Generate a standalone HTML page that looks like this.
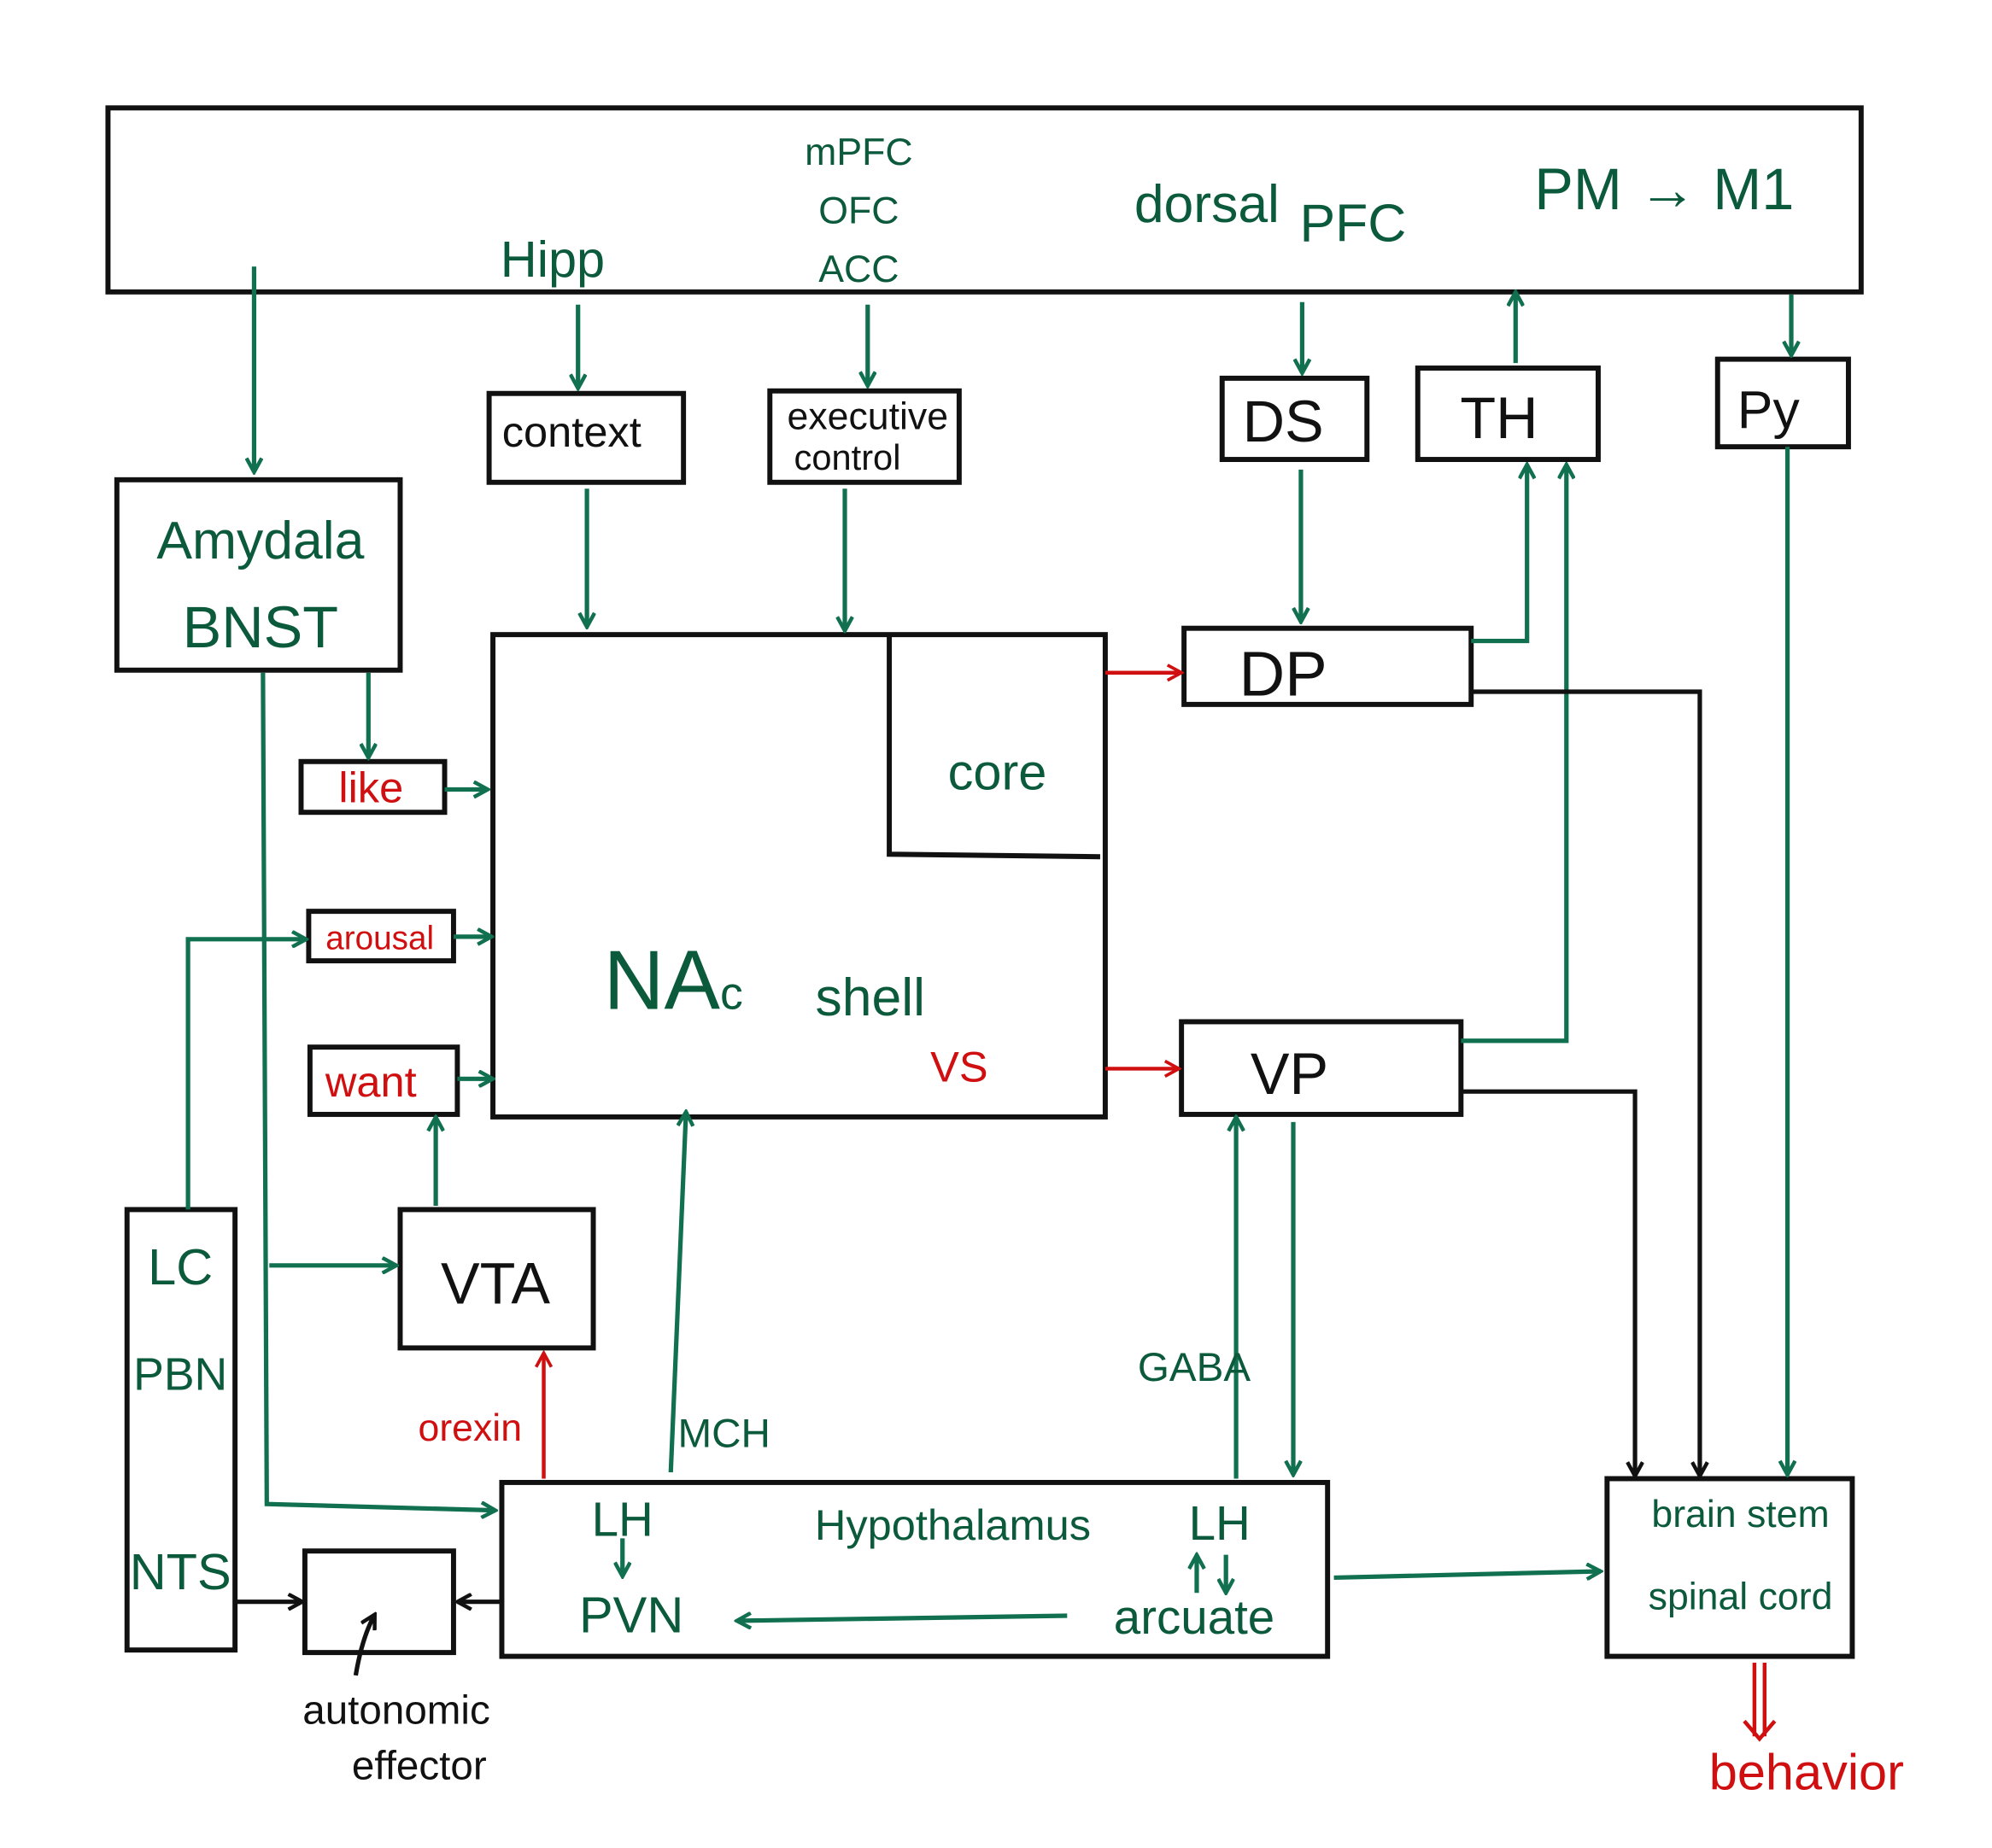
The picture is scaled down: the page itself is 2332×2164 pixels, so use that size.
<!DOCTYPE html>
<html><head><meta charset="utf-8"><style>
html,body{margin:0;padding:0;background:#fff;}
svg{display:block;}
text{font-family:"Liberation Sans",sans-serif;}
</style></head><body>
<svg width="2332" height="2164" viewBox="0 0 1568 1456" preserveAspectRatio="none" xmlns="http://www.w3.org/2000/svg">
<defs>
<marker id="g" markerWidth="14" markerHeight="14" refX="12" refY="7" orient="auto" markerUnits="userSpaceOnUse"><path d="M1,1 L12,7 L1,13" fill="none" stroke="#107050" stroke-width="3"/></marker>
<marker id="k" markerWidth="14" markerHeight="14" refX="12" refY="7" orient="auto" markerUnits="userSpaceOnUse"><path d="M1,1 L12,7 L1,13" fill="none" stroke="#111" stroke-width="3"/></marker>
<marker id="r" markerWidth="14" markerHeight="14" refX="12" refY="7" orient="auto" markerUnits="userSpaceOnUse"><path d="M1,1 L12,7 L1,13" fill="none" stroke="#d01010" stroke-width="2.5"/></marker>
</defs>
<g fill="none" stroke="#111" stroke-width="4">
<rect x="85" y="85" width="1380" height="145"/>
<rect x="92" y="378" width="223" height="150"/>
<rect x="385" y="310" width="153" height="70"/>
<rect x="606" y="308" width="149" height="72"/>
<rect x="962" y="298" width="114" height="64"/>
<rect x="1116" y="290" width="142" height="72"/>
<rect x="1352" y="283" width="103" height="69"/>
<rect x="388" y="500" width="482" height="380"/>
<polyline points="700,500 700,673 866,675"/>
<rect x="932" y="495" width="226" height="60"/>
<rect x="930" y="805" width="220" height="73"/>
<rect x="1265" y="1165" width="193" height="140"/>
<rect x="237" y="600" width="113" height="40"/>
<rect x="243" y="718" width="114" height="39"/>
<rect x="244" y="825" width="116" height="53"/>
<rect x="315" y="953" width="152" height="109"/>
<rect x="100" y="953" width="85" height="347"/>
<rect x="395" y="1168" width="650" height="137"/>
<rect x="240" y="1222" width="117" height="80"/>
</g>
<g fill="none" stroke="#107050" stroke-width="3.5">
<line x1="200" y1="210" x2="200" y2="372" marker-end="url(#g)"/>
<line x1="455" y1="240" x2="455" y2="306" marker-end="url(#g)"/>
<line x1="683" y1="240" x2="683" y2="304" marker-end="url(#g)"/>
<line x1="1025" y1="238" x2="1025" y2="294" marker-end="url(#g)"/>
<line x1="1193" y1="286" x2="1193" y2="230" marker-end="url(#g)"/>
<line x1="1410" y1="232" x2="1410" y2="280" marker-end="url(#g)"/>
<line x1="462" y1="385" x2="462" y2="494" marker-end="url(#g)"/>
<line x1="665" y1="385" x2="665" y2="497" marker-end="url(#g)"/>
<line x1="1024" y1="370" x2="1024" y2="490" marker-end="url(#g)"/>
<polyline points="1158,505 1202,505 1202,366" marker-end="url(#g)"/>
<polyline points="1150,820 1233,820 1233,366" marker-end="url(#g)"/>
<line x1="1407" y1="352" x2="1407" y2="1162" marker-end="url(#g)"/>
<line x1="290" y1="530" x2="290" y2="597" marker-end="url(#g)"/>
<line x1="350" y1="622" x2="384" y2="622" marker-end="url(#g)"/>
<line x1="357" y1="738" x2="387" y2="738" marker-end="url(#g)"/>
<line x1="360" y1="850" x2="388" y2="850" marker-end="url(#g)"/>
<polyline points="207,530 210,1185 390,1190" marker-end="url(#g)"/>
<line x1="212" y1="997" x2="312" y2="997" marker-end="url(#g)"/>
<line x1="343" y1="950" x2="343" y2="880" marker-end="url(#g)"/>
<polyline points="148,953 148,740 241,740" marker-end="url(#g)"/>
<line x1="528" y1="1160" x2="540" y2="876" marker-end="url(#g)"/>
<line x1="973" y1="1165" x2="973" y2="880" marker-end="url(#g)"/>
<line x1="1018" y1="884" x2="1018" y2="1162" marker-end="url(#g)"/>
<line x1="1050" y1="1243" x2="1260" y2="1238" marker-end="url(#g)"/>
<line x1="840" y1="1273" x2="580" y2="1277" marker-end="url(#g)"/>
<line x1="490" y1="1212" x2="490" y2="1242" marker-end="url(#g)"/>
<line x1="942" y1="1255" x2="942" y2="1225" marker-end="url(#g)"/>
<line x1="965" y1="1225" x2="965" y2="1255" marker-end="url(#g)"/>
</g>
<g fill="none" stroke="#111" stroke-width="3.5">
<polyline points="1158,545 1338,545 1338,1163" marker-end="url(#k)"/>
<polyline points="1150,860 1287,860 1287,1163" marker-end="url(#k)"/>
<line x1="185" y1="1262" x2="238" y2="1262" marker-end="url(#k)"/>
<line x1="395" y1="1262" x2="360" y2="1262" marker-end="url(#k)"/>
<path d="M280,1320 Q285,1290 295,1272" marker-end="url(#k)"/>
</g>
<g fill="none" stroke="#d01010" stroke-width="3">
<line x1="870" y1="530" x2="930" y2="530" marker-end="url(#r)"/>
<line x1="870" y1="842" x2="928" y2="842" marker-end="url(#r)"/>
<line x1="428" y1="1165" x2="428" y2="1066" marker-end="url(#r)"/>
<line x1="1381" y1="1310" x2="1381" y2="1368"/>
<line x1="1389" y1="1310" x2="1389" y2="1368"/>
<polyline points="1373,1356 1385,1370 1397,1356"/>
</g>
<g fill="#0c5a3c" text-anchor="middle">
<text x="435" y="218" font-size="40">Hipp</text>
<text x="676" y="130" font-size="30">mPFC</text>
<text x="676" y="176" font-size="30">OFC</text>
<text x="676" y="222" font-size="30">ACC</text>
<text x="950" y="175" font-size="42">dorsal</text>
<text x="1065" y="190" font-size="42">PFC</text>
<text x="1310" y="165" font-size="46">PM → M1</text>
<text x="205" y="440" font-size="42">Amydala</text>
<text x="205" y="510" font-size="46">BNST</text>
<text x="785" y="622" font-size="40">core</text>
<text x="530" y="795" font-size="66">NA<tspan font-size="36">c</tspan></text>
<text x="685" y="800" font-size="42">shell</text>
<text x="1370" y="1203" font-size="30">brain stem</text>
<text x="1370" y="1268" font-size="30">spinal cord</text>
<text x="142" y="1012" font-size="40">LC</text>
<text x="142" y="1095" font-size="36">PBN</text>
<text x="142" y="1252" font-size="40">NTS</text>
<text x="570" y="1140" font-size="32">MCH</text>
<text x="940" y="1088" font-size="32">GABA</text>
<text x="490" y="1210" font-size="38">LH</text>
<text x="497" y="1286" font-size="40">PVN</text>
<text x="750" y="1213" font-size="34">Hypothalamus</text>
<text x="960" y="1213" font-size="38">LH</text>
<text x="940" y="1287" font-size="38">arcuate</text>
</g>
<g fill="#111" text-anchor="middle">
<text x="450" y="352" font-size="34">context</text>
<text x="683" y="338" font-size="30">executive</text>
<text x="667" y="370" font-size="28">control</text>
<text x="1010" y="348" font-size="46">DS</text>
<text x="1180" y="345" font-size="46">TH</text>
<text x="1392" y="337" font-size="42">Py</text>
<text x="1010" y="548" font-size="50">DP</text>
<text x="1015" y="862" font-size="46">VP</text>
<text x="390" y="1027" font-size="46">VTA</text>
<text x="312" y="1358" font-size="32">autonomic</text>
<text x="330" y="1402" font-size="32">effector</text>
</g>
<g fill="#d01010" text-anchor="middle">
<text x="292" y="632" font-size="34">like</text>
<text x="299" y="748" font-size="26">arousal</text>
<text x="292" y="864" font-size="34">want</text>
<text x="755" y="852" font-size="34">VS</text>
<text x="370" y="1135" font-size="30">orexin</text>
<text x="1422" y="1410" font-size="40">behavior</text>
</g>
</svg>
</body></html>
